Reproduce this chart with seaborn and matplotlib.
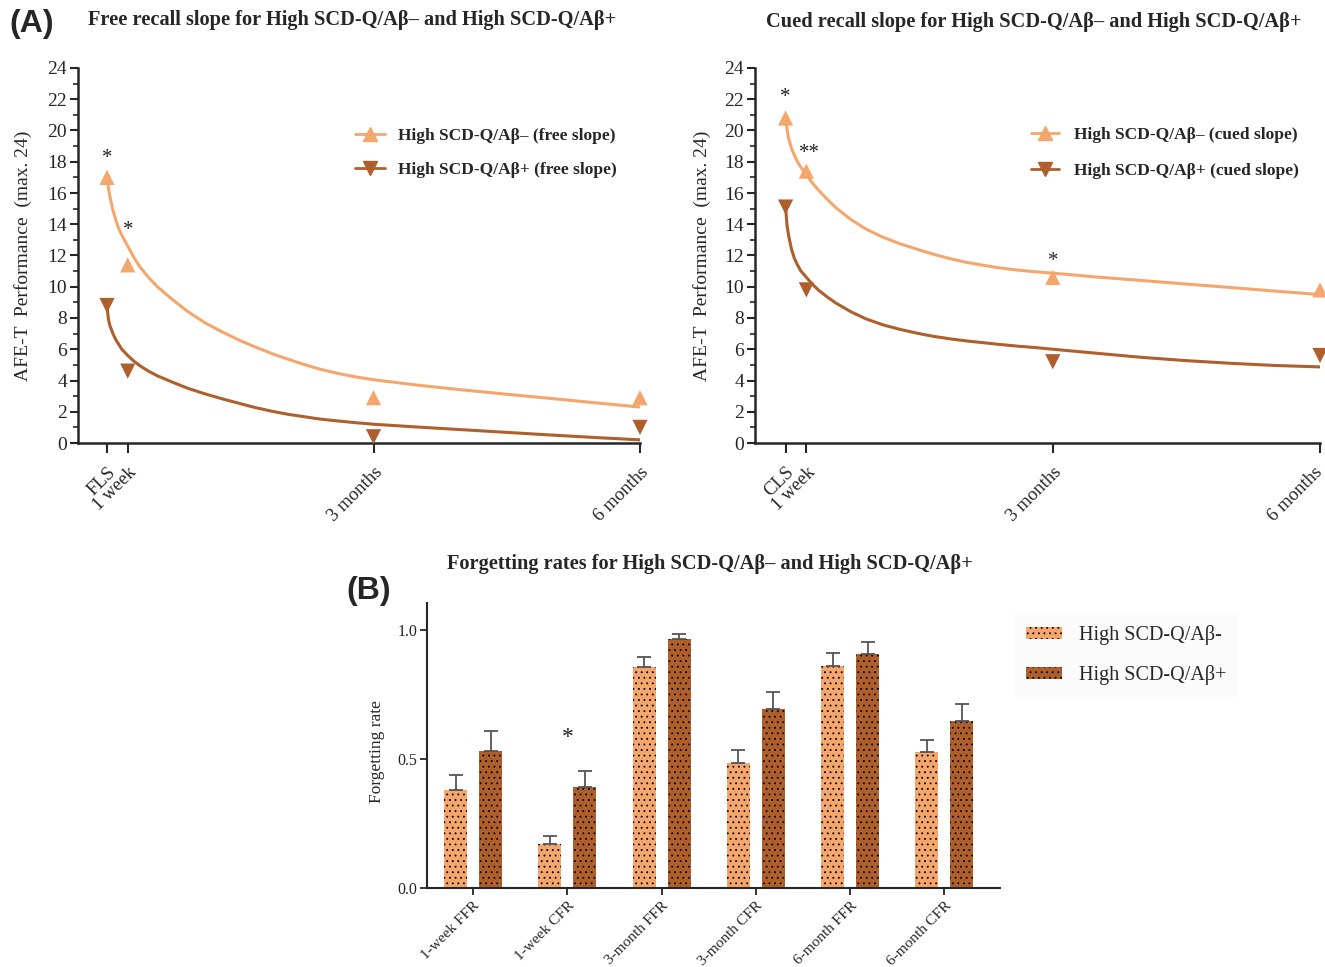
import numpy as np
import pandas as pd
import matplotlib
matplotlib.use("Agg")
import matplotlib.pyplot as plt
from matplotlib.lines import Line2D
from matplotlib.patches import Patch
from matplotlib.ticker import MultipleLocator
from matplotlib.transforms import ScaledTranslation
import seaborn as sns

# ---------------- data ----------------
timepoint_days = [0, 7, 90, 180]
free_ticklabels = ["FLS", "1 week", "3 months", "6 months"]
cued_ticklabels = ["CLS", "1 week", "3 months", "6 months"]

free_neg = [17.0, 11.4, 2.9, 2.9]
free_pos = [8.8, 4.6, 0.4, 1.0]
cued_neg = [20.8, 17.4, 10.6, 9.8]
cued_pos = [15.1, 9.8, 5.2, 5.6]

# fitted curves, values at these days
curve_days = [0, 0.5, 1, 2, 3, 4, 5, 7, 9, 11, 14, 17, 22, 27, 33, 39, 45, 50, 56, 61,
              67, 72, 78, 84, 90, 105, 120, 135, 150, 165, 180]
free_neg_curve = [17.1, 16.3, 15.75, 14.9, 14.25, 13.7, 13.3, 12.6, 11.9, 11.3, 10.6, 10.0,
                  9.2, 8.45, 7.7, 7.1, 6.55, 6.15, 5.7, 5.37, 5.0, 4.72, 4.45, 4.23, 4.05,
                  3.7, 3.4, 3.12, 2.85, 2.57, 2.3]
free_pos_curve = [8.7, 7.9, 7.5, 7.0, 6.6, 6.3, 6.0, 5.6, 5.25, 4.96, 4.6, 4.3,
                  3.9, 3.52, 3.15, 2.82, 2.52, 2.27, 2.02, 1.84, 1.67, 1.53, 1.41, 1.3, 1.2,
                  1.02, 0.85, 0.68, 0.51, 0.35, 0.2]
cued_neg_curve = [20.8, 20.1, 19.5, 18.85, 18.4, 18.0, 17.7, 17.15, 16.65, 16.2, 15.6, 15.05,
                  14.3, 13.7, 13.15, 12.72, 12.36, 12.07, 11.77, 11.56, 11.36, 11.21, 11.07, 10.96,
                  10.87, 10.62, 10.4, 10.17, 9.95, 9.72, 9.5]
cued_pos_curve = [15.1, 13.9, 13.3, 12.4, 11.8, 11.4, 11.05, 10.6, 10.17, 9.8, 9.35, 8.95,
                  8.4, 7.95, 7.55, 7.25, 7.0, 6.82, 6.65, 6.53, 6.41, 6.31, 6.2, 6.11,
                  6.0, 5.74, 5.48, 5.27, 5.1, 4.96, 4.87]

bar_categories = ["1-week FFR", "1-week CFR", "3-month FFR", "3-month CFR", "6-month FFR", "6-month CFR"]
bar_groups = ["High SCD-Q/A\u03b2-", "High SCD-Q/A\u03b2+"]
rate_neg = [0.38, 0.17, 0.855, 0.485, 0.861, 0.526]
rate_pos = [0.532, 0.39, 0.965, 0.695, 0.909, 0.649]
sem_neg = [0.058, 0.033, 0.042, 0.049, 0.049, 0.049]
sem_pos = [0.075, 0.064, 0.018, 0.063, 0.043, 0.064]

LIGHT = "#F4A66C"
DARK = "#AE5F2C"

sns.set_style("ticks")
plt.rcParams["font.family"] = ["Liberation Serif", "DejaVu Serif"]
plt.rcParams["hatch.linewidth"] = 0.6
plt.rcParams["hatch.color"] = "black"

W, H = 1325, 967
fig = plt.figure(figsize=(W / 100, H / 100), dpi=100)


def fx(px):
    return px / W


def fy(py):
    return 1 - py / H


ax1 = fig.add_axes([fx(78), fy(443), fx(640 - 78), (443 - 68) / H])
ax2 = fig.add_axes([fx(755), fy(443), fx(1320 - 755), (443 - 68) / H])
axb = fig.add_axes([fx(427), fy(888), fx(1000 - 427), (888 - 603) / H])

shift_left = ScaledTranslation(-3.5 / 72, 0, fig.dpi_scale_trans)
shift_more = ScaledTranslation(-4.5 / 72, 0, fig.dpi_scale_trans)


def line_panel(ax, neg, pos, neg_curve, pos_curve, ticklabels, xmin):
    sns.lineplot(x=curve_days, y=neg_curve, color=LIGHT, linewidth=2.2, sort=False, ax=ax)
    sns.lineplot(x=curve_days, y=pos_curve, color=DARK, linewidth=2.2, sort=False, ax=ax)
    for ln in ax.lines:
        ln.set_solid_joinstyle("round")
        ln.set_solid_capstyle("round")
    sns.scatterplot(x=timepoint_days, y=neg, marker="^", s=120, color=LIGHT,
                    edgecolor="none", ax=ax, zorder=3, clip_on=False)
    sns.scatterplot(x=timepoint_days, y=pos, marker="v", s=120, color=DARK,
                    edgecolor="none", ax=ax, zorder=3, clip_on=False)
    ax.set_xlim(xmin, 180)
    ax.set_ylim(0, 24)
    ax.set_xticks(timepoint_days)
    ax.set_xticklabels(ticklabels, rotation=45, ha="right", rotation_mode="anchor", fontsize=13.5)
    for lab in ax.get_xticklabels():
        lab.set_transform(lab.get_transform() + shift_left)
    ax.yaxis.set_major_locator(MultipleLocator(2))
    ax.yaxis.set_minor_locator(MultipleLocator(1))
    ax.tick_params(axis="y", labelsize=14, width=1.5, length=6, pad=2)
    ax.tick_params(axis="y", which="minor", width=1.2, length=3.5)
    ax.tick_params(axis="x", width=1.5, length=7, pad=8)
    for s in ["top", "right"]:
        ax.spines[s].set_visible(False)
    for s in ["left", "bottom"]:
        ax.spines[s].set_linewidth(1.8)
    ax.set_ylabel("AFE-T  Performance  (max. 24)", fontsize=14)
    ax.set_xlabel("")


line_panel(ax1, free_neg, free_pos, free_neg_curve, free_pos_curve, free_ticklabels, -9.8)
line_panel(ax2, cued_neg, cued_pos, cued_neg_curve, cued_pos_curve, cued_ticklabels, -10.3)
last = ax2.get_xticklabels()[-1]
last.set_transform(last.get_transform() + shift_more)
ax1.yaxis.set_label_coords(-0.082, 0.5)
ax2.yaxis.set_label_coords(-0.078, 0.5)

# asterisks
star_kw = dict(ha="center", va="center", fontsize=15, color="#222222")
ax1.text(0, 18.2, "*", **star_kw)
ax1.text(7, 13.6, "*", **star_kw)
ax2.text(0, 22.1, "*", **star_kw)
ax2.text(8, 18.5, "**", **star_kw)
ax2.text(90, 11.6, "*", **star_kw)


# legends of line panels
def line_legend(kind, anchor, spacing, hlen, tpad):
    handles = [
        Line2D([], [], color=LIGHT, marker="^", markersize=10, linewidth=2),
        Line2D([], [], color=DARK, marker="v", markersize=10, linewidth=2),
    ]
    labels = ["High SCD-Q/A\u03b2\u2013 (%s slope)" % kind, "High SCD-Q/A\u03b2+ (%s slope)" % kind]
    fig.legend(handles, labels, loc="center left", bbox_to_anchor=anchor,
               frameon=False, prop={"weight": "bold", "size": 12.5},
               labelspacing=spacing, handlelength=hlen, handletextpad=tpad, borderpad=0,
               borderaxespad=0)


line_legend("free", (fx(355), fy(153)), 1.0, 1.7, 0.75)
line_legend("cued", (fx(1031), fy(153)), 1.15, 1.6, 0.9)

# ---------------- bar panel ----------------
df = pd.DataFrame({
    "measure": bar_categories * 2,
    "rate": rate_neg + rate_pos,
    "group": [bar_groups[0]] * 6 + [bar_groups[1]] * 6,
})
sns.barplot(data=df, x="measure", y="rate", hue="group", palette=[LIGHT, DARK],
            width=0.74, gap=0.34, errorbar=None, legend=False, saturation=1, ax=axb)

bars = sorted([p for p in axb.patches], key=lambda p: p.get_x())
for p in bars:
    p.set_hatch("...")
    p.set_edgecolor("black")
    p.set_linewidth(0)

xs = [p.get_x() + p.get_width() / 2 for p in bars]
vals = [v for pair in zip(rate_neg, rate_pos) for v in pair]
sems = [v for pair in zip(sem_neg, sem_pos) for v in pair]
axb.errorbar(xs, vals, yerr=[np.zeros(len(sems)), sems], fmt="none", ecolor="#555555",
             elinewidth=1.3, capsize=5, capthick=1.3, zorder=3)

axb.set_xlim(-0.49, 5.59)
axb.set_ylim(0, 1.105)
axb.set_yticks([0.0, 0.5, 1.0])
axb.set_yticklabels(["0.0", "0.5", "1.0"])
axb.tick_params(axis="y", labelsize=11.5, width=1.3, length=5, pad=2)
axb.tick_params(axis="x", width=1.3, length=5, pad=3)
axb.set_xticks(range(len(bar_categories)))
axb.set_xticklabels(bar_categories, rotation=45, ha="right", rotation_mode="anchor", fontsize=11)
for s in ["top", "right"]:
    axb.spines[s].set_visible(False)
for s in ["left", "bottom"]:
    axb.spines[s].set_linewidth(1.5)
axb.set_xlabel("")
axb.set_ylabel("Forgetting rate", fontsize=12.5)
axb.yaxis.set_label_coords(-0.073, 0.48)
axb.text(1, 0.585, "*", ha="center", va="center", fontsize=17, color="#222222")

bar_handles = [Patch(facecolor=LIGHT, edgecolor="black", linewidth=0, hatch="..."),
               Patch(facecolor=DARK, edgecolor="black", linewidth=0, hatch="...")]
leg = fig.legend(bar_handles, bar_groups, loc="upper left", bbox_to_anchor=(fx(1004), fy(603)),
                 frameon=True, fontsize=14.5, handlelength=1.8, handleheight=0.55,
                 handletextpad=0.8, labelspacing=1.0, borderpad=0.6, fancybox=False)
leg.get_frame().set_facecolor("#fafafa")
leg.get_frame().set_edgecolor("none")

# ---------------- titles & panel labels ----------------
title_kw = dict(ha="center", va="center", fontsize=14.7, fontweight="bold")
fig.text(fx(352), fy(20), "Free recall slope for High SCD-Q/A\u03b2\u2013 and High SCD-Q/A\u03b2+", **title_kw)
fig.text(fx(1034), fy(22), "Cued recall slope for High SCD-Q/A\u03b2\u2013 and High SCD-Q/A\u03b2+", **title_kw)
fig.text(fx(710), fy(564), "Forgetting rates for High SCD-Q/A\u03b2\u2013 and High SCD-Q/A\u03b2+", **title_kw)
fig.text(fx(9), fy(24), "(A)", ha="left", va="center", fontsize=23, fontweight="bold",
         family=["Liberation Sans", "DejaVu Sans"])
fig.text(fx(346), fy(591), "(B)", ha="left", va="center", fontsize=23, fontweight="bold",
         family=["Liberation Sans", "DejaVu Sans"])

fig.savefig("out.png", dpi=100)
